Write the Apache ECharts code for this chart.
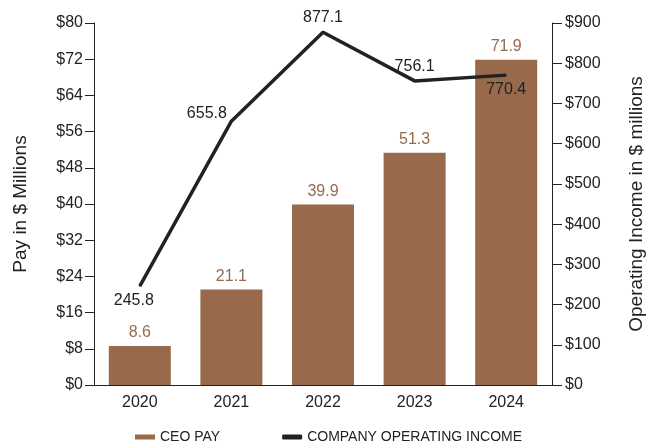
<!DOCTYPE html>
<html>
<head>
<meta charset="utf-8">
<script src="https://cdn.jsdelivr.net/npm/echarts@6/dist/echarts.min.js"></script>
<style>
  html, body { margin: 0; padding: 0; background: #fff; }
  #chart { width: 647px; height: 441px; }
</style>
</head>
<body>
<div id="chart"></div>
<script>
const years = ['2020', '2021', '2022', '2023', '2024']
const ceoPay = [8.6, 21.1, 39.9, 51.3, 71.9]
const operatingIncome = [245.8, 655.8, 877.1, 756.1, 770.4]
// where each income label sits relative to its point
const incomeLabelPos = ['bottom', 'left', 'top', 'top', 'bottom']
const incomeLabelOffset = [[-6, 0], [2, -8], [0, 0], [0, 0], [0, 0]]

const font = 'Liberation Sans, Arial, Helvetica, sans-serif'
const barColor = '#986a4b'
const ink = '#222'

const chart = echarts.init(document.getElementById('chart'))

chart.setOption({
  animation: false,
  textStyle: { fontFamily: font },
  grid: { left: 94, right: 95, top: 23, bottom: 56, containLabel: false, outerBoundsMode: 'none' },
  legend: {
    bottom: -8,
    left: 130,
    itemGap: 62,
    itemWidth: 20,
    itemHeight: 5,
    textStyle: { color: ink, fontSize: 14, fontFamily: font },
    data: [
      { name: 'CEO PAY', icon: 'rect' },
      { name: 'COMPANY OPERATING INCOME', icon: 'roundRect' },
    ],
  },
  xAxis: {
    type: 'category',
    data: years,
    axisLine: { lineStyle: { color: ink, width: 1 } },
    axisTick: { show: false },
    axisLabel: { color: ink, fontSize: 16, margin: 10 },
  },
  yAxis: [
    {
      type: 'value',
      min: 0,
      max: 80,
      interval: 8,
      name: 'Pay in $ Millions',
      nameLocation: 'middle',
      nameGap: 64,
      nameTextStyle: { color: ink, fontSize: 19 },
      splitLine: { show: false },
      axisLine: { show: true, lineStyle: { color: ink } },
      axisTick: { show: true, length: 9, lineStyle: { color: ink } },
      axisLabel: { color: ink, fontSize: 16, margin: 11, formatter: v => '$' + v },
    },
    {
      type: 'value',
      min: 0,
      max: 900,
      interval: 100,
      position: 'right',
      name: 'Operating Income in $ millions',
      nameLocation: 'middle',
      nameRotate: 90,
      nameGap: 75,
      nameTextStyle: { color: ink, fontSize: 19 },
      splitLine: { show: false },
      axisLine: { show: true, lineStyle: { color: ink } },
      axisTick: { show: true, length: 10, lineStyle: { color: ink } },
      axisLabel: { color: ink, fontSize: 16, margin: 13, formatter: v => '$' + v },
    },
  ],
  series: [
    {
      name: 'CEO PAY',
      type: 'bar',
      data: ceoPay,
      barWidth: 62,
      itemStyle: { color: barColor },
      label: {
        show: true,
        position: 'top',
        distance: 5,
        color: barColor,
        fontSize: 16,
        formatter: p => p.value.toFixed(1),
      },
    },
    {
      name: 'COMPANY OPERATING INCOME',
      type: 'line',
      yAxisIndex: 1,
      data: operatingIncome.map((v, i) => ({
        value: v,
        label: { position: incomeLabelPos[i], offset: incomeLabelOffset[i] },
      })),
      symbol: 'circle',
      symbolSize: 1,
      lineStyle: { color: ink, width: 3.5 },
      itemStyle: { color: ink },
      label: {
        show: true,
        color: ink,
        fontSize: 16,
        distance: 6,
        formatter: p => p.value.toFixed(1),
      },
      z: 3,
    },
  ],
})
</script>
</body>
</html>
